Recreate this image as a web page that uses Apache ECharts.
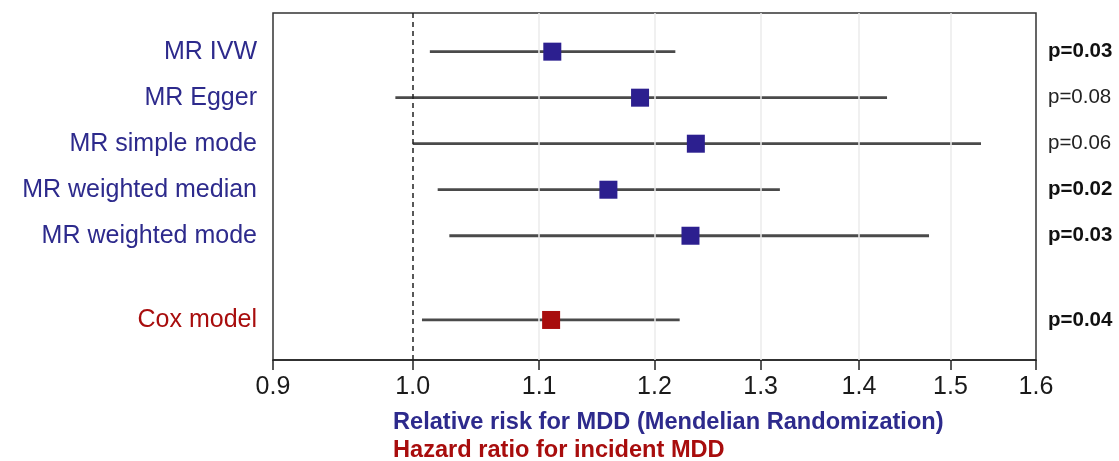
<!DOCTYPE html>
<html>
<head>
<meta charset="utf-8">
<script src="https://cdn.jsdelivr.net/npm/echarts@6/dist/echarts.min.js"></script>
<style>
  html, body { margin: 0; padding: 0; background: #fff; }
  #chart { width: 1119px; height: 461px; }
</style>
</head>
<body>
<div id="chart"></div>
<script>
const methods = ["MR IVW", "MR Egger", "MR simple mode", "MR weighted median", "MR weighted mode", "Cox model"];
const rowPos = [1, 2, 3, 4, 5, 6.83];
const isCox = [false, false, false, false, false, true];
const estimate = [1.111, 1.187, 1.238, 1.159, 1.233, 1.110];
const lower = [1.013, 0.987, 1.0, 1.019, 1.028, 1.007];
const upper = [1.219, 1.430, 1.535, 1.319, 1.476, 1.223];
const pValues = ["p=0.03", "p=0.08", "p=0.06", "p=0.02", "p=0.03", "p=0.04"];
const significant = [true, false, false, true, true, true];
const xTicks = [0.9, 1.0, 1.1, 1.2, 1.3, 1.4, 1.5, 1.6];
const gridTicks = [1.1, 1.2, 1.3, 1.4, 1.5];
const refValue = 1.0;
const xTitleMR = "Relative risk for MDD (Mendelian Randomization)";
const xTitleCox = "Hazard ratio for incident MDD";

const BLUE = "#2d2a8c";
const BLUE_MARK = "#2c1f8f";
const RED = "#a80d0d";
const FONT = "Liberation Sans, Arial, Helvetica, sans-serif";

const rowIndex = (v) => rowPos.findIndex((p) => Math.abs(p - v) < 1e-6);

const chart = echarts.init(document.getElementById("chart"), null, { renderer: "canvas" });

chart.setOption({
  animation: false,
  textStyle: { fontFamily: FONT },
  grid: {
    left: 273, right: 83, top: 13, bottom: 101,
    show: true, borderColor: "#333", borderWidth: 1.5,
    backgroundColor: "transparent",
    outerBoundsMode: "none",
  },
  xAxis: {
    type: "log",
    logBase: 10,
    min: 0.9,
    max: 1.6,
    axisLine: { show: true, lineStyle: { color: "#222", width: 1.5 } },
    axisTick: { show: true, customValues: xTicks, length: 10, lineStyle: { color: "#222", width: 1.5 } },
    axisLabel: {
      customValues: xTicks,
      formatter: (v) => Number(v).toFixed(1),
      fontSize: 25, color: "#1a1a1a", margin: 15, fontFamily: FONT,
    },
    splitLine: { show: false },
  },
  yAxis: [
    {
      type: "value", inverse: true, min: 0.16, max: 7.7,
      axisLine: { show: false }, axisTick: { show: false }, splitLine: { show: false },
      axisLabel: {
        customValues: rowPos,
        margin: 16,
        fontSize: 25,
        fontFamily: FONT,
        padding: [0, 0, 4, 0],
        formatter: (v) => methods[rowIndex(v)] || "",
        color: (v) => (isCox[rowIndex(v)] ? RED : BLUE),
      },
    },
    {
      type: "value", inverse: true, min: 0.16, max: 7.7, position: "right",
      axisLine: { show: false }, axisTick: { show: false }, splitLine: { show: false },
      axisLabel: {
        customValues: rowPos,
        margin: 12,
        formatter: (v) => {
          const i = rowIndex(v);
          return i < 0 ? "" : (significant[i] ? "{b|" : "{n|") + pValues[i] + "}";
        },
        rich: {
          b: { fontSize: 20.5, fontWeight: "bold", color: "#111", fontFamily: FONT },
          n: { fontSize: 20.5, color: "#222", fontFamily: FONT },
        },
      },
    },
  ],
  graphic: [
    { type: "text", left: 393, top: 410, style: { text: xTitleMR, font: "bold 23.6px " + FONT, fill: BLUE } },
    { type: "text", left: 393, top: 438, style: { text: xTitleCox, font: "bold 23.6px " + FONT, fill: RED } },
  ],
  series: [
    {
      type: "scatter",
      data: [],
      z: 1,
      silent: true,
      markLine: {
        silent: true,
        symbol: "none",
        label: { show: false },
        data: gridTicks
          .map((v) => ({ xAxis: v, lineStyle: { color: "#ebebeb", width: 1.5, type: "solid" } }))
          .concat([{ xAxis: refValue, lineStyle: { color: "#222", width: 1.5, type: [5, 4] } }]),
      },
    },
    {
      type: "custom",
      z: 2,
      data: methods.map((m, i) => [lower[i], upper[i], rowPos[i]]),
      encode: { x: [0, 1], y: 2 },
      renderItem: (params, api) => {
        const a = api.coord([api.value(0), api.value(2)]);
        const b = api.coord([api.value(1), api.value(2)]);
        return {
          type: "line",
          shape: { x1: a[0], y1: a[1], x2: b[0], y2: b[1] },
          style: { stroke: "#4a4a4a", lineWidth: 2.8 },
        };
      },
    },
    {
      type: "scatter",
      z: 3,
      symbol: "rect",
      symbolSize: 18,
      data: methods.map((m, i) => ({
        name: m,
        value: [estimate[i], rowPos[i]],
        itemStyle: { color: isCox[i] ? RED : BLUE_MARK, opacity: 1 },
      })),
    },
  ],
});

window.addEventListener("resize", () => chart.resize());
</script>
</body>
</html>
